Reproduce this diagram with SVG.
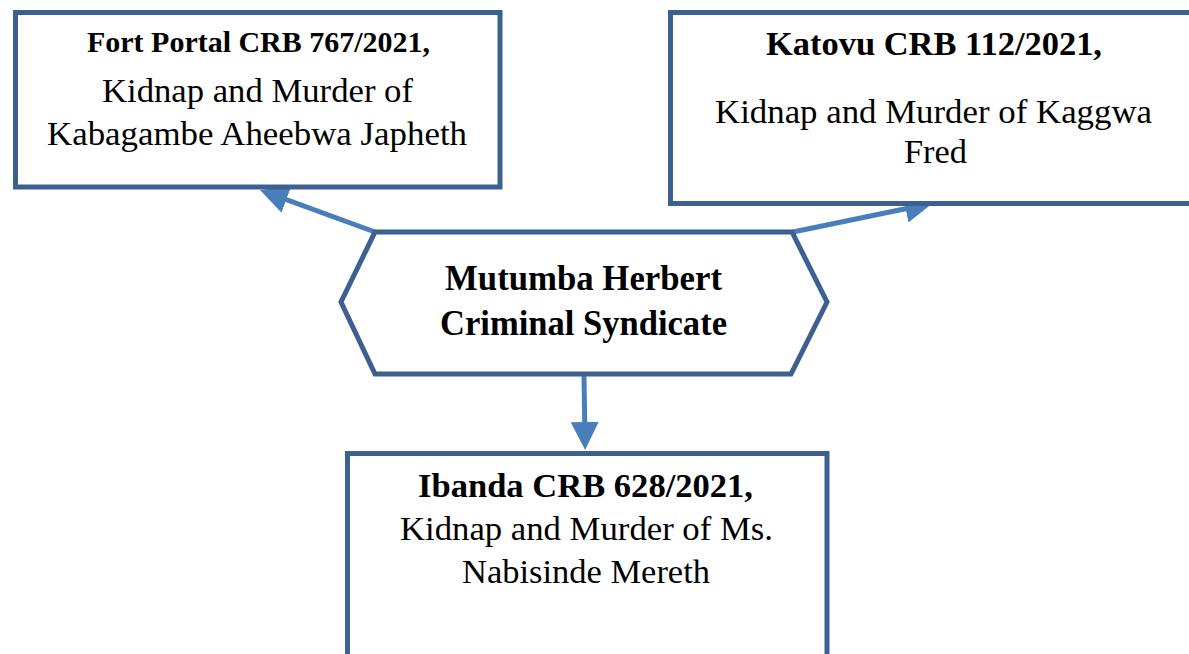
<svg xmlns="http://www.w3.org/2000/svg" width="1189" height="654" viewBox="0 0 1189 654">
<defs>
<style>
.box{fill:#ffffff;stroke:#3D6090;stroke-width:5}
.t{font-family:"Liberation Serif","Times New Roman",serif;fill:#000;text-anchor:middle}
.b{font-weight:bold}
.conn{stroke:#4A7EBB;stroke-width:5;fill:none}
</style>
<marker id="ah" viewBox="0 0 10 10" refX="7" refY="5" markerWidth="5.6" markerHeight="5.6" orient="auto" markerUnits="strokeWidth">
<path d="M0,0 L10,5 L0,10 z" fill="#4A7EBB"/>
</marker>
</defs>
<rect width="1189" height="654" fill="#ffffff"/>
<g id="connectors">
<line class="conn" x1="375" y1="232" x2="267.9" y2="192.9" marker-end="url(#ah)"/>
<line class="conn" x1="793" y1="232" x2="924.8" y2="204.7" marker-end="url(#ah)"/>
<line class="conn" x1="584" y1="376" x2="585" y2="441.6" marker-end="url(#ah)"/>
</g>
<g id="node-fortportal">
<rect class="box" x="15.5" y="12.5" width="484.5" height="174.5"/>
<text class="t b" x="258.5" y="52" font-size="30" textLength="343" lengthAdjust="spacingAndGlyphs">Fort Portal CRB 767/2021,</text>
<text class="t" x="257.5" y="102" font-size="34" textLength="311" lengthAdjust="spacingAndGlyphs">Kidnap and Murder of</text>
<text class="t" x="257" y="145" font-size="34" textLength="420" lengthAdjust="spacingAndGlyphs">Kabagambe Aheebwa Japheth</text>
</g>
<g id="node-katovu">
<rect class="box" x="670.5" y="12.5" width="530" height="191"/>
<text class="t b" x="934" y="55" font-size="34" textLength="336" lengthAdjust="spacingAndGlyphs">Katovu CRB 112/2021,</text>
<text class="t" x="933.5" y="123" font-size="34.5" textLength="437" lengthAdjust="spacingAndGlyphs">Kidnap and Murder of Kaggwa</text>
<text class="t" x="935.5" y="163" font-size="34.5" textLength="63" lengthAdjust="spacingAndGlyphs">Fred</text>
</g>
<g id="node-syndicate">
<polygon class="box" points="375,232 792,232 827,302 791,374 375,374 341,302"/>
<text class="t b" x="583.5" y="290" font-size="35" textLength="277" lengthAdjust="spacingAndGlyphs">Mutumba Herbert</text>
<text class="t b" x="583.5" y="335" font-size="35" textLength="287" lengthAdjust="spacingAndGlyphs">Criminal Syndicate</text>
</g>
<g id="node-ibanda">
<rect class="box" x="347.5" y="453.5" width="479.5" height="210"/>
<text class="t b" x="585.5" y="497" font-size="34.5" textLength="335" lengthAdjust="spacingAndGlyphs">Ibanda CRB 628/2021,</text>
<text class="t" x="586.5" y="540" font-size="34.5" textLength="373" lengthAdjust="spacingAndGlyphs">Kidnap and Murder of Ms.</text>
<text class="t" x="586" y="583" font-size="34.5" textLength="248" lengthAdjust="spacingAndGlyphs">Nabisinde Mereth</text>
</g>
</svg>
